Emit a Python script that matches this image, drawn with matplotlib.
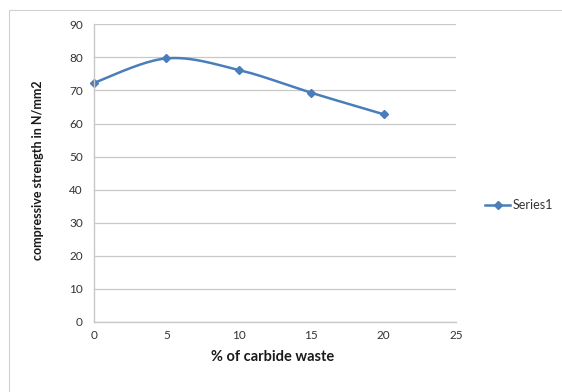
import numpy as np
import matplotlib.pyplot as plt
from matplotlib.patches import Rectangle
from matplotlib.lines import Line2D

plt.rcParams["font.family"] = ["Lato", "DejaVu Sans"]

carbide_pct = [0, 5, 10, 15, 20]
strength = [72.3, 79.7, 76.2, 69.3, 62.8]

BLUE = "#4A7EBB"
GRID = "#C8C8C8"
TEXT = "#333333"


def smooth_curve(x, y, n=40):
    # Bezier segments through each point, Catmull-Rom style tangents
    x = np.asarray(x, float)
    y = np.asarray(y, float)
    px = np.concatenate([[x[0]], x, [x[-1]]])
    py = np.concatenate([[y[0]], y, [y[-1]]])
    xs, ys = [], []
    t = np.linspace(0, 1, n)
    for i in range(1, len(px) - 2):
        p0 = np.array([px[i], py[i]])
        p3 = np.array([px[i + 1], py[i + 1]])
        p1 = p0 + (np.array([px[i + 1], py[i + 1]]) - np.array([px[i - 1], py[i - 1]])) / 6
        p2 = p3 - (np.array([px[i + 2], py[i + 2]]) - np.array([px[i], py[i]])) / 6
        b = ((1 - t) ** 3)[:, None] * p0 + (3 * (1 - t) ** 2 * t)[:, None] * p1 \
            + (3 * (1 - t) * t ** 2)[:, None] * p2 + (t ** 3)[:, None] * p3
        xs.append(b[:, 0])
        ys.append(b[:, 1])
    return np.concatenate(xs), np.concatenate(ys)


fig = plt.figure(figsize=(5.62, 3.92), dpi=100)
fig.patches.append(Rectangle((9 / 562, -0.1), 1.2, (392 - 10) / 392 + 0.1,
                             transform=fig.transFigure, fill=False,
                             edgecolor="#D0D0D0", linewidth=0.8))

ax = fig.add_axes([94 / 562, 70 / 392, 362 / 562, 297.7 / 392])
ax.set_xlim(0, 25)
ax.set_ylim(0, 90)
ax.set_xticks(range(0, 26, 5))
ax.set_yticks(range(0, 91, 10))
ax.grid(axis="y", color=GRID, linewidth=0.9)
ax.set_axisbelow(True)
for side in ("top", "right"):
    ax.spines[side].set_visible(False)
for side in ("left", "bottom"):
    ax.spines[side].set_color(GRID)
    ax.spines[side].set_linewidth(1.0)
ax.tick_params(length=0, labelsize=8.5, labelcolor=TEXT)
ax.tick_params(axis="x", pad=6)
ax.tick_params(axis="y", pad=8)

sx, sy = smooth_curve(carbide_pct, strength)
ax.plot(sx, sy, color=BLUE, linewidth=1.8, solid_capstyle="round", clip_on=False)
ax.plot(carbide_pct, strength, linestyle="none", marker="D", markersize=4.2,
        color=BLUE, clip_on=False)

fig.text(38 / 562, 1 - 170 / 392, "compressive strength in N/mm2", rotation=90,
         ha="center", va="center", fontsize=9, fontweight="bold", color="#1a1a1a")
fig.text(273 / 562, 1 - 357 / 392, "% of carbide waste", ha="center", va="center",
         fontsize=10.5, fontweight="bold", color="#1a1a1a")

handle = Line2D([], [], color=BLUE, linewidth=1.8, marker="D", markersize=4.2)
fig.legend([handle], ["Series1"], loc="center left",
           bbox_to_anchor=(474 / 562, 1 - 205 / 392), frameon=False,
           fontsize=9, handlelength=2.0, handletextpad=0.2,
           labelcolor=TEXT)

fig.savefig("out.png", dpi=100)
